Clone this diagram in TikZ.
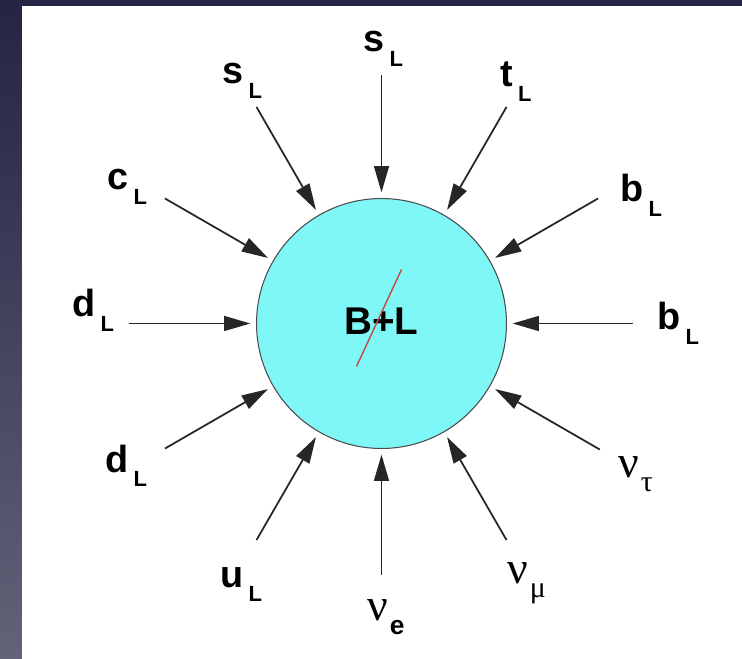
\documentclass[tikz,border=0pt]{standalone}
\usepackage{fontspec}
\setmainfont{Liberation Sans}
\newfontfamily\greekfont{Liberation Serif}
\usetikzlibrary{arrows.meta}

\definecolor{ballcyan}{RGB}{128,247,247}
\definecolor{slashred}{RGB}{190,75,65}
\definecolor{slidetop}{RGB}{36,36,68}
\definecolor{slidebot}{RGB}{98,98,120}

% main letter, then lowered subscript
\newcommand{\quark}[2]{#1\hspace{3pt}\raisebox{-8pt}{\fontsize{12.5}{14}\selectfont #2}}
\newcommand{\nutype}[1]{{\greekfont\mdseries\fontsize{26}{28}\selectfont ν}\hspace{1pt}\raisebox{-8pt}{#1}}

\begin{document}
\begin{tikzpicture}[
    x=0.02cm, y=0.02cm,
    ball/.style = {circle, draw=black!70, line width=0.6pt, fill=ballcyan,
                   inner sep=0pt, minimum size=5cm,
                   font=\fontsize{22}{24}\selectfont\bfseries},
    lbl/.style  = {anchor=base west, inner sep=0pt,
                   font=\fontsize{21.5}{24}\selectfont\bfseries},
    arr/.style  = {-{Triangle[length=15pt, width=8.5pt]}, line width=1pt,
                   black!85, shorten >=3.2pt}
]
% slide background
\useasboundingbox (-381.5,323.5) rectangle (360.5,-334.5);
\shade[top color=slidetop, bottom color=slidebot] (-381.5,323.5) rectangle (360.5,-334.5);
\fill[white] (-359.5,317.5) rectangle (366,-340);

% the vertex
\node[ball] (ball) at (0,0) {\raisebox{2.3pt}{B+L}};
\draw[slashred, line width=0.8pt] (20,54) -- (-25,-43);

% incoming fermions
\node[lbl] (sLtop)   at (-18.5,271.5)  {\quark{s}{L}};
\node[lbl] (sLleft)  at (-159.5,239.5) {\quark{s}{L}};
\node[lbl] (tL)      at (118.5,236.5)  {\quark{t}{L}};
\node[lbl] (cL)      at (-274.5,133.5) {\quark{c}{L}};
\node[lbl] (bLup)    at (238.5,121.5)  {\quark{b}{L}};
\node[lbl] (dLleft)  at (-309.5,6.5)   {\quark{d}{L}};
\node[lbl] (bLright) at (275.5,-6.5)   {\quark{b}{L}};
\node[lbl] (dLlow)   at (-276.5,-148.5){\quark{d}{L}};
\node[lbl] (uL)      at (-161.5,-263.5){\quark{u}{L}};
\node[lbl] (nutau)   at (236.5,-153.5) {\nutype{\greekfont\mdseries\fontsize{17}{19}\selectfont τ}};
\node[lbl] (nue)     at (-14.5,-296.5) {\nutype{\fontsize{15}{17}\selectfont e}};
\node[lbl] (numu)    at (125.5,-259.5) {\nutype{\greekfont\mdseries\fontsize{17}{19}\selectfont μ}};

% arrow tails
\coordinate (tail0)   at (0:251);
\coordinate (tail30)  at (30:250);
\coordinate (tail60)  at (60:250);
\coordinate (tail90)  at (90:248);
\coordinate (tail120) at (120:250);
\coordinate (tail150) at (150:250);
\coordinate (tail180) at (180:252);
\coordinate (tail210) at (210:250);
\coordinate (tail240) at (240:250);
\coordinate (tail270) at (270:251);
\coordinate (tail300) at (300:250);
\coordinate (tail330) at (330:252);

% arrows into the vertex
\draw[arr] (tail0)   -- (ball.0);
\draw[arr] (tail30)  -- (ball.30);
\draw[arr] (tail60)  -- (ball.60);
\draw[arr] (tail90)  -- (ball.90);
\draw[arr] (tail120) -- (ball.120);
\draw[arr] (tail150) -- (ball.150);
\draw[arr] (tail180) -- (ball.180);
\draw[arr] (tail210) -- (ball.210);
\draw[arr] (tail240) -- (ball.240);
\draw[arr] (tail270) -- (ball.270);
\draw[arr] (tail300) -- (ball.300);
\draw[arr] (tail330) -- (ball.330);
\end{tikzpicture}
\end{document}
